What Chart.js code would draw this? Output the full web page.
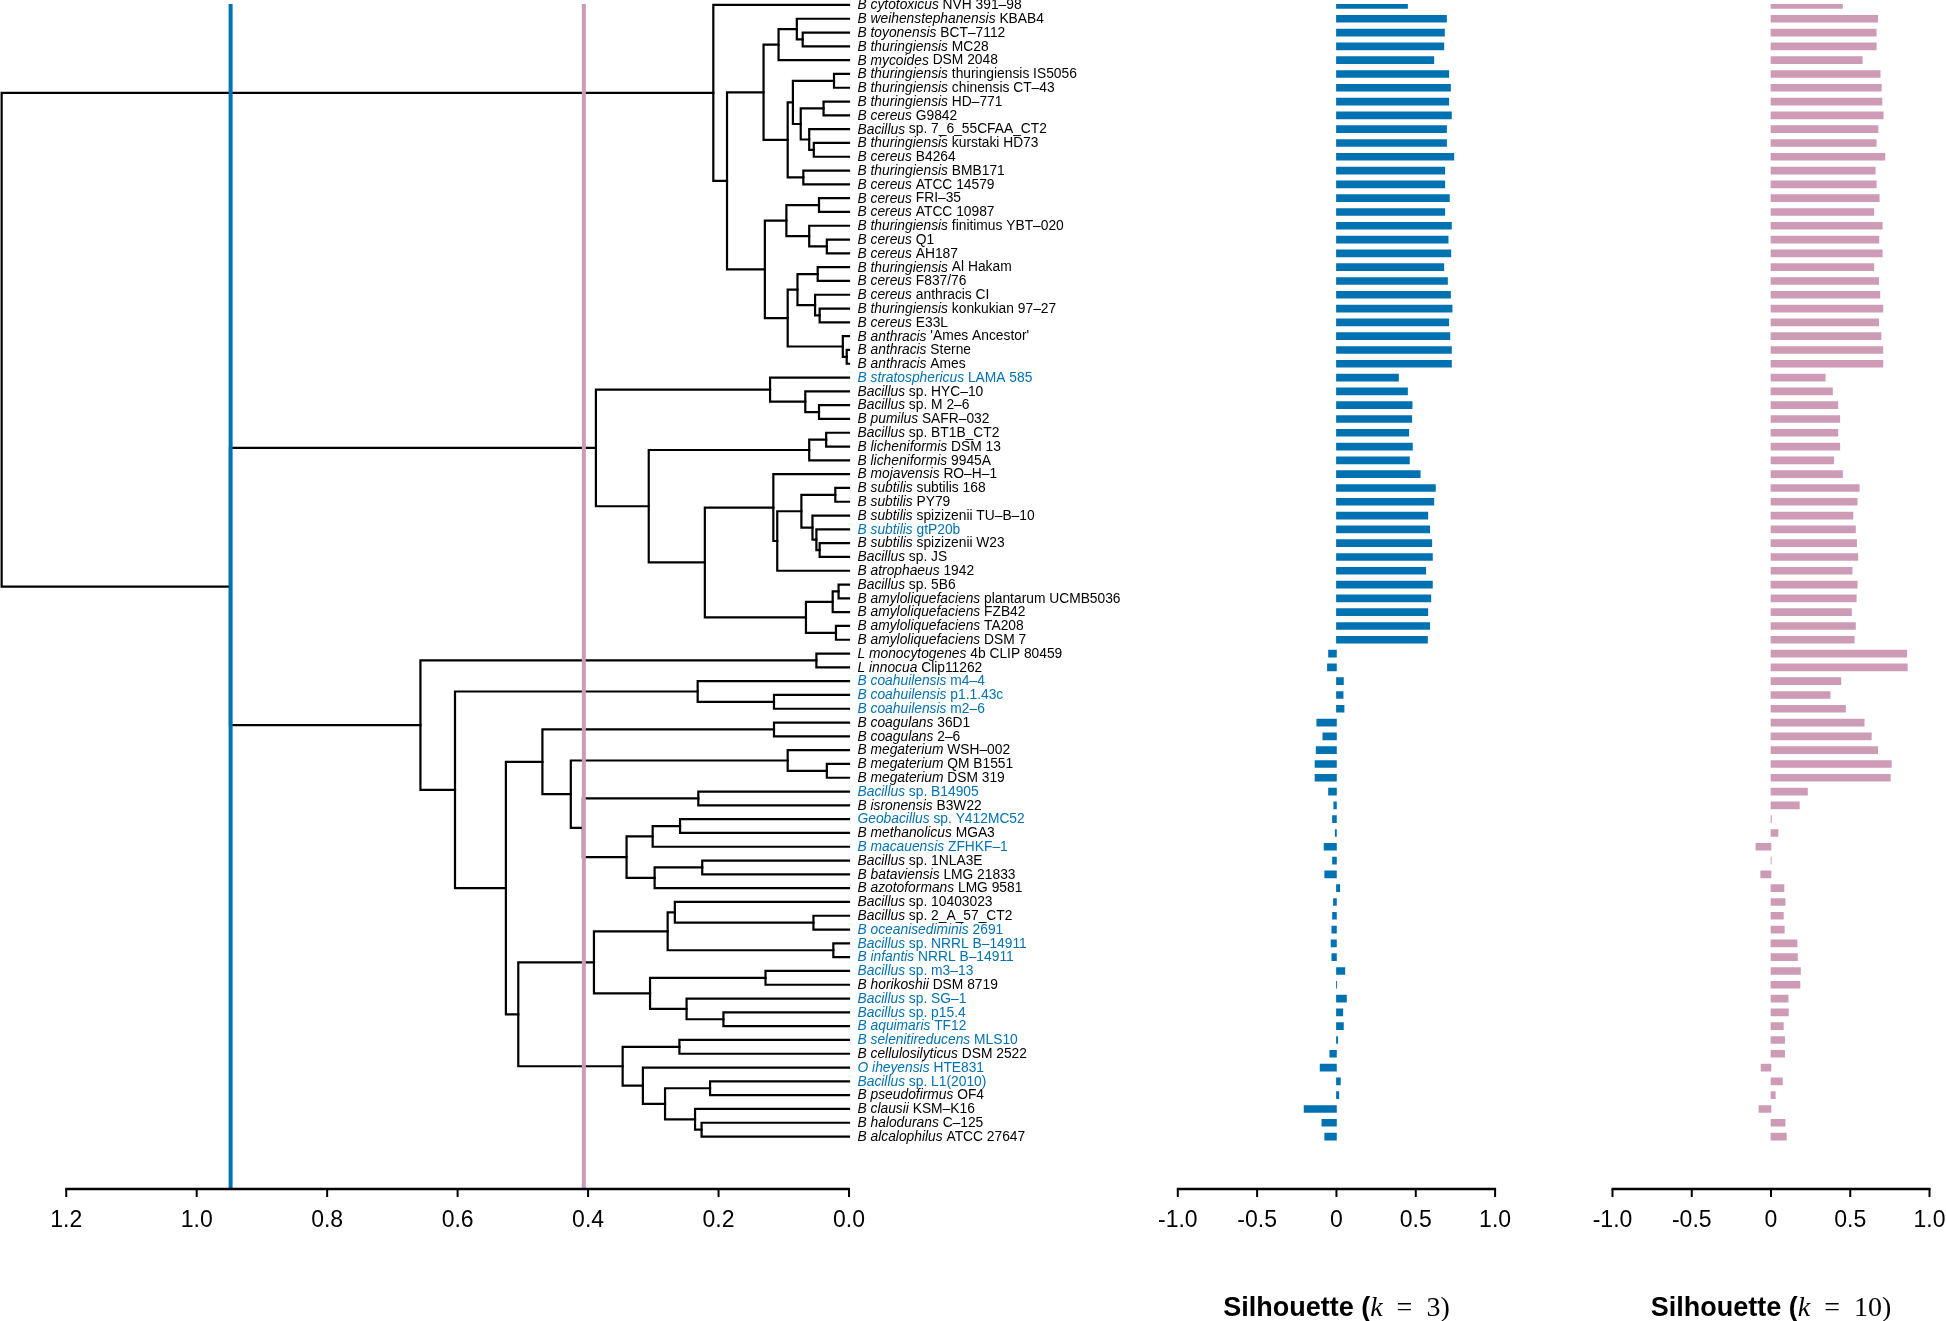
<!DOCTYPE html>
<html><head><meta charset="utf-8">
<script src="https://cdn.jsdelivr.net/npm/chart.js@4.4.1/dist/chart.umd.min.js"></script>
<style>
html,body{margin:0;padding:0;background:#fff;overflow:hidden;}
#wrap{position:relative;width:1946px;height:1321px;background:#fff;}
canvas{position:absolute;top:0;}
</style></head><body>
<div id="wrap">
<canvas id="dend" width="1150" height="1321" style="left:0px"></canvas>
<canvas id="sil3" width="400" height="1321" style="left:1150px"></canvas>
<canvas id="sil10" width="366" height="1321" style="left:1580px"></canvas>
</div>
<script>
// ---------------- DATA ----------------
const leafGenusSpecies = [
"B cytotoxicus","B weihenstephanensis","B toyonensis","B thuringiensis","B mycoides",
"B thuringiensis","B thuringiensis","B thuringiensis","B cereus","Bacillus",
"B thuringiensis","B cereus","B thuringiensis","B cereus","B cereus",
"B cereus","B thuringiensis","B cereus","B cereus","B thuringiensis",
"B cereus","B cereus","B thuringiensis","B cereus","B anthracis",
"B anthracis","B anthracis","B stratosphericus","Bacillus","Bacillus",
"B pumilus","Bacillus","B licheniformis","B licheniformis","B mojavensis",
"B subtilis","B subtilis","B subtilis","B subtilis","B subtilis",
"Bacillus","B atrophaeus","Bacillus","B amyloliquefaciens","B amyloliquefaciens",
"B amyloliquefaciens","B amyloliquefaciens","L monocytogenes","L innocua","B coahuilensis",
"B coahuilensis","B coahuilensis","B coagulans","B coagulans","B megaterium",
"B megaterium","B megaterium","Bacillus","B isronensis","Geobacillus",
"B methanolicus","B macauensis","Bacillus","B bataviensis","B azotoformans",
"Bacillus","Bacillus","B oceanisediminis","Bacillus","B infantis",
"Bacillus","B horikoshii","Bacillus","Bacillus","B aquimaris",
"B selenitireducens","B cellulosilyticus","O iheyensis","Bacillus","B pseudofirmus",
"B clausii","B halodurans","B alcalophilus"];
const leafStrain = [
"NVH 391\u201398","KBAB4","BCT\u20137112","MC28","DSM 2048",
"thuringiensis IS5056","chinensis CT\u201343","HD\u2013771","G9842","sp. 7_6_55CFAA_CT2",
"kurstaki HD73","B4264","BMB171","ATCC 14579","FRI\u201335",
"ATCC 10987","finitimus YBT\u2013020","Q1","AH187","Al Hakam",
"F837/76","anthracis CI","konkukian 97\u201327","E33L","'Ames Ancestor'",
"Sterne","Ames","LAMA 585","sp. HYC\u201310","sp. M 2\u20136",
"SAFR\u2013032","sp. BT1B_CT2","DSM 13","9945A","RO\u2013H\u20131",
"subtilis 168","PY79","spizizenii TU\u2013B\u201310","gtP20b","spizizenii W23",
"sp. JS","1942","sp. 5B6","plantarum UCMB5036","FZB42",
"TA208","DSM 7","4b CLIP 80459","Clip11262","m4\u20134",
"p1.1.43c","m2\u20136","36D1","2\u20136","WSH\u2013002",
"QM B1551","DSM 319","sp. B14905","B3W22","sp. Y412MC52",
"MGA3","ZFHKF\u20131","sp. 1NLA3E","LMG 21833","LMG 9581",
"sp. 10403023","sp. 2_A_57_CT2","2691","sp. NRRL B\u201314911","NRRL B\u201314911",
"sp. m3\u201313","DSM 8719","sp. SG\u20131","sp. p15.4","TF12",
"MLS10","DSM 2522","HTE831","sp. L1(2010)","OF4",
"KSM\u2013K16","C\u2013125","ATCC 27647"];
const blueLeaves = [28,39,50,51,52,58,60,62,68,69,70,71,73,74,75,76,78,79];

const silhouetteK3 = [
0.448,0.694,0.681,0.677,0.614,0.708,0.719,0.708,0.725,0.694,
0.694,0.740,0.683,0.683,0.712,0.683,0.725,0.704,0.721,0.677,
0.700,0.719,0.729,0.708,0.715,0.725,0.725,0.391,0.448,0.477,
0.475,0.456,0.479,0.460,0.528,0.624,0.614,0.576,0.588,0.601,
0.605,0.563,0.605,0.595,0.576,0.588,0.574,-0.050,-0.057,0.044,
0.042,0.048,-0.124,-0.086,-0.128,-0.135,-0.135,-0.050,-0.017,-0.025,
-0.008,-0.078,-0.025,-0.074,0.021,-0.019,-0.025,-0.029,-0.034,-0.029,
0.053,0.002,0.063,0.040,0.044,0.008,-0.042,-0.103,0.025,0.015,
-0.204,-0.092,-0.074];
const silhouetteK10 = [
0.451,0.673,0.664,0.664,0.576,0.689,0.696,0.700,0.708,0.675,
0.664,0.719,0.658,0.664,0.683,0.649,0.702,0.681,0.702,0.649,
0.679,0.687,0.706,0.679,0.694,0.706,0.706,0.342,0.388,0.422,
0.434,0.422,0.434,0.396,0.451,0.557,0.544,0.517,0.533,0.540,
0.548,0.512,0.544,0.538,0.508,0.533,0.525,0.856,0.860,0.441,
0.373,0.470,0.588,0.633,0.673,0.759,0.753,0.230,0.179,0.003,
0.044,-0.095,0.002,-0.065,0.082,0.089,0.078,0.084,0.164,0.167,
0.186,0.183,0.108,0.110,0.078,0.086,0.086,-0.063,0.072,0.027,
-0.076,0.089,0.097];

const dendTickValues = [1.2,1.0,0.8,0.6,0.4,0.2,0.0];
const dendTickLabels = ["1.2","1.0","0.8","0.6","0.4","0.2","0.0"];
const silTickValues = [-1,-0.5,0,0.5,1];
const silTickLabels = ["-1.0","-0.5","0","0.5","1.0"];
const cutHeightK3 = 0.948;
const cutHeightK10 = 0.4065;

// dendrogram: [mergeHeight, left, right]; numbers = leaf positions (1..83)
const cluster1 = [0.208, 1,
  [0.187,
    [0.131,
      [0.108, [0.080, 2, [0.071, 3, 4]], 5],
      [0.094,
        [0.086, [0.023, 6, 7], [0.074, [0.039, 8, 9], [0.061, 10, [0.054, 11, 12]]]],
        [0.070, 13, 14]]],
    [0.129,
      [0.096, [0.046, 15, 16], [0.061, 17, [0.034, 18, 19]]],
      [0.094,
        [0.079, [0.048, 20, 21], [0.052, 22, [0.045, 23, 24]]],
        [0.0095, 25, [0.0035, 26, 27]]]]]];
const cluster2 = [0.388,
  [0.121, 28, [0.067, 29, [0.046, 30, 31]]],
  [0.307,
    [0.061, [0.035, 32, 33], 34],
    [0.221,
      [0.116, 35, [0.110, [0.073, [0.021, 36, 37], [0.056, 38, [0.050, 39, [0.045, 40, 41]]]], 42]],
      [0.066, [0.025, [0.016, 43, 44], 45], [0.020, 46, 47]]]]];
const cluster3 = [0.657,
  [0.050, 48, 49],
  [0.604,
    [0.232, 50, [0.115, 51, 52]],
    [0.526,
      [0.470,
        [0.115, 53, 54],
        [0.4265,
          [0.094, 55, [0.034, 56, 57]],
          [0.408,
            [0.231, 58, 59],
            [0.341, [0.301, [0.259, 60, 61], 62], [0.298, [0.225, 63, 64], 65]]]]],
      [0.507,
        [0.391,
          [0.278, [0.267, 66, [0.0545, 67, 68]], [0.024, 69, 70]],
          [0.305, [0.128, 71, 72], [0.249, 73, [0.1925, 74, 75]]]],
        [0.347,
          [0.260, 76, 77],
          [0.316, 78, [0.282, [0.213, 79, 80], [0.236, 81, [0.226, 82, 83]]]]]]]]];
const mergeHeightC2C3 = 0.949;
const rootHeight = 1.299;

// ---------------- BUILD ----------------
const BLUE = '#0072B2';
const PINK = '#CE9BB7';
const Y_MIN = 0.93, Y_MAX = 86.8;
const treeRoot = [rootHeight, cluster1, [mergeHeightC2C3, cluster2, cluster3]];
const segs = [];
function walk(node){
  if (typeof node === 'number') return {h:0, y:node};
  const A = walk(node[1]), B = walk(node[2]);
  segs.push([{x:A.h,y:A.y},{x:node[0],y:A.y},{x:node[0],y:B.y},{x:B.h,y:B.y}]);
  return {h:node[0], y:(A.y+B.y)/2};
}
walk(treeRoot);

const leafLabelsPlugin = {
  id:'leafLabels',
  afterDraw(chart){
    const {ctx, chartArea} = chart; const ys = chart.scales.y;
    ctx.save();
    ctx.textBaseline = 'middle'; ctx.textAlign = 'left';
    const x0 = chartArea.right + 8.5;
    for (let i=0;i<leafGenusSpecies.length;i++){
      const y = ys.getPixelForValue(i+1) + 0.5;
      ctx.fillStyle = blueLeaves.includes(i+1) ? BLUE : '#000';
      ctx.font = 'italic 13.8px "Liberation Sans", Arial, sans-serif';
      ctx.fillText(leafGenusSpecies[i], x0, y);
      const w = ctx.measureText(leafGenusSpecies[i]).width;
      ctx.font = '13.8px "Liberation Sans", Arial, sans-serif';
      ctx.fillText(' ' + leafStrain[i], x0 + w, y);
    }
    ctx.restore();
  }
};

const rAxisPlugin = {
  id:'rAxis',
  afterDraw(chart, args, opts){
    const {ctx, chartArea} = chart; const xs = chart.scales.x;
    const y0 = chartArea.bottom;
    ctx.save();
    ctx.strokeStyle = '#000'; ctx.fillStyle = '#000';
    const pa = xs.getPixelForValue(opts.values[0]);
    const pb = xs.getPixelForValue(opts.values[opts.values.length-1]);
    ctx.lineWidth = 2.6;
    ctx.beginPath(); ctx.moveTo(Math.min(pa,pb)-1, y0); ctx.lineTo(Math.max(pa,pb)+1, y0); ctx.stroke();
    ctx.lineWidth = 2;
    ctx.font = '23px "Liberation Sans", Arial, sans-serif';
    ctx.textAlign = 'center'; ctx.textBaseline = 'middle';
    opts.values.forEach((v,i)=>{
      const p = xs.getPixelForValue(v);
      ctx.beginPath(); ctx.moveTo(p, y0); ctx.lineTo(p, y0+8); ctx.stroke();
      ctx.fillText(opts.labels[i], p, y0+32);
    });
    if (opts.k){
      const cx = xs.getPixelForValue(0);
      const base = 1315.5;
      const parts = [
        ['bold 27px "Liberation Sans", Arial, sans-serif', 'Silhouette ('],
        ['italic 28px "Liberation Serif", "DejaVu Serif", serif', 'k'],
        ['28px "Liberation Serif", "DejaVu Serif", serif', '\u2002=\u2002' + opts.k + ')']
      ];
      let total = 0;
      const ws = parts.map(p=>{ ctx.font = p[0]; const w = ctx.measureText(p[1]).width; total += w; return w; });
      let x = cx - total/2;
      ctx.textAlign = 'left'; ctx.textBaseline = 'alphabetic';
      parts.forEach((p,i)=>{ ctx.font = p[0]; ctx.fillText(p[1], x, base); x += ws[i]; });
    }
    ctx.restore();
  }
};

Chart.defaults.animation = false;

const dendDatasets = [
  {data:[{x:cutHeightK3,y:Y_MIN},{x:cutHeightK3,y:Y_MAX}], borderColor:BLUE, borderWidth:4, showLine:true, pointRadius:0, order:0, clip:false},
  {data:[{x:cutHeightK10,y:Y_MIN},{x:cutHeightK10,y:Y_MAX}], borderColor:PINK, borderWidth:4, showLine:true, pointRadius:0, order:0, clip:false}
].concat(segs.map(s=>({data:s, borderColor:'#000', borderWidth:2.2, showLine:true, pointRadius:0, order:1, clip:false, borderCapStyle:'square', borderJoinStyle:'miter'})));

new Chart(document.getElementById('dend'), {
  type:'scatter',
  data:{datasets:dendDatasets},
  options:{
    responsive:false, animation:false, devicePixelRatio:1,
    layout:{padding:{left:1,right:301,top:4,bottom:132}},
    plugins:{legend:{display:false}, tooltip:{enabled:false},
      rAxis:{values:dendTickValues, labels:dendTickLabels}},
    scales:{
      x:{type:'linear', min:0, max:1.3, reverse:true, display:false},
      y:{type:'linear', min:Y_MIN, max:Y_MAX, reverse:true, display:false}
    }
  },
  plugins:[leafLabelsPlugin, rAxisPlugin]
});

function silChart(id, values, color, k, padL, padR){
  return new Chart(document.getElementById(id), {
    type:'bar',
    data:{datasets:[{data:values.map((v,i)=>({x:v,y:i+1})), backgroundColor:color, borderWidth:0, barThickness:7}]},
    options:{
      indexAxis:'y', responsive:false, animation:false, devicePixelRatio:1,
      layout:{padding:{left:padL,right:padR,top:4,bottom:132}},
      plugins:{legend:{display:false}, tooltip:{enabled:false},
        rAxis:{values:silTickValues, labels:silTickLabels, k:k}},
      scales:{
        x:{type:'linear', min:-1, max:1, display:false, offset:false},
        y:{type:'linear', min:Y_MIN, max:Y_MAX, reverse:true, display:false, offset:false, grid:{offset:false}}
      }
    },
    plugins:[rAxisPlugin]
  });
}
silChart('sil3', silhouetteK3, BLUE, '3', 27.8, 54.9);
silChart('sil10', silhouetteK10, PINK, '10', 32.5, 16.5);
</script>
</body></html>
